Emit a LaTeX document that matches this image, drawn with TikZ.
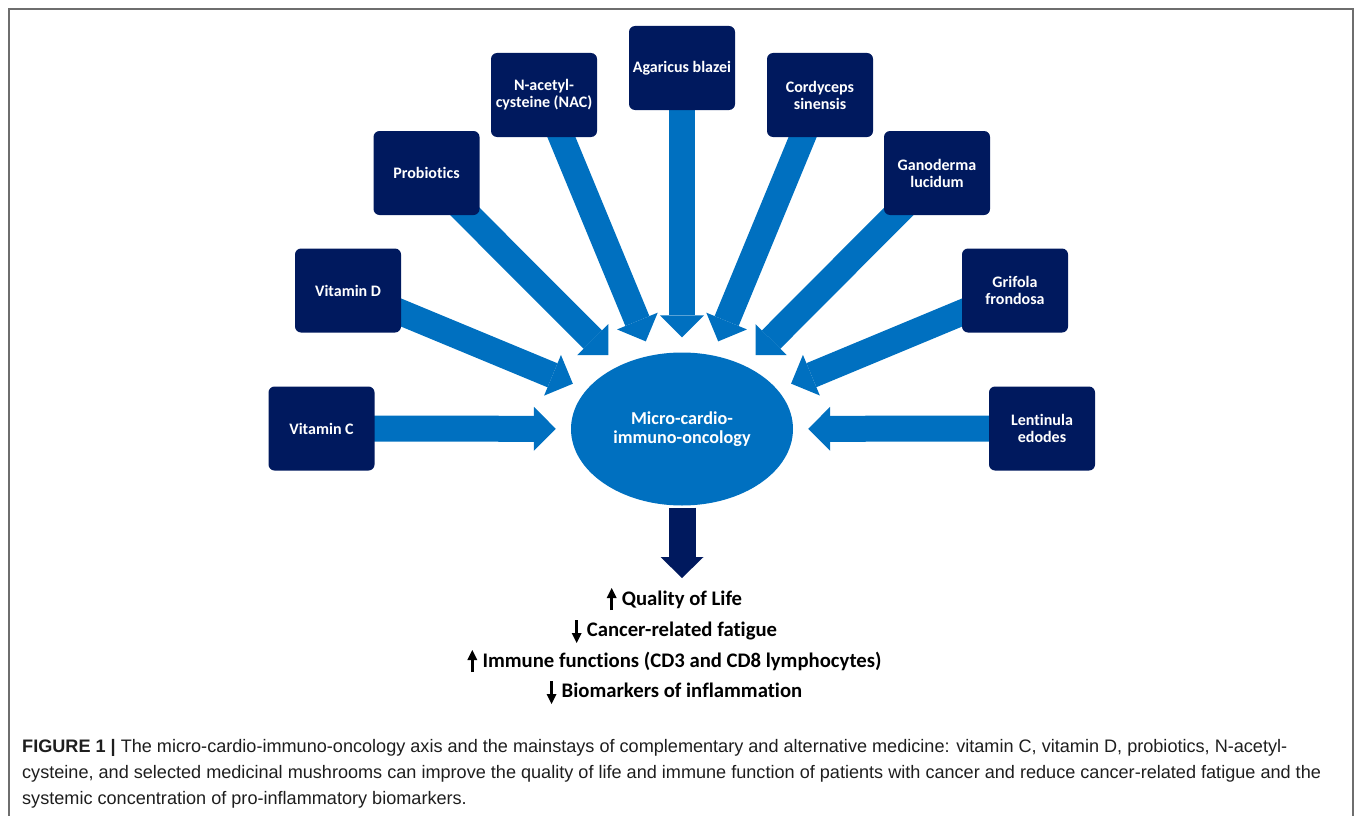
\documentclass[tikz,border=0pt]{standalone}
\usepackage{fontspec}
\setmainfont{Carlito}[Ligatures=NoCommon]
\newfontfamily\capfont{Liberation Sans}
\usetikzlibrary{shapes.geometric, arrows.meta, backgrounds}
\definecolor{navy}{RGB}{0,25,94}
\definecolor{mainblue}{RGB}{0,112,192}
\definecolor{framegray}{RGB}{110,110,110}
\definecolor{captext}{RGB}{30,30,30}
\tikzstyle{remedy} = [
	rectangle,
	rounded corners=6pt,
	minimum width=106pt,
	minimum height=84pt,
	inner sep=2pt,
	align=center,
	text=white,
	fill=navy,
	font=\bfseries\fontsize{16}{17}\selectfont
]
\tikzstyle{hub} = [
	ellipse,
	minimum width=222pt,
	minimum height=153pt,
	inner sep=0pt,
	align=center,
	text=white,
	fill=mainblue,
	font=\bfseries\fontsize{18.2}{18.5}\selectfont
]
\tikzstyle{feed} = [line width=26pt, draw=mainblue, -{Triangle[width=44pt,length=22pt,line width=0pt]}, shorten >=15pt]
\tikzstyle{result} = [line width=27pt, draw=navy, -{Triangle[width=43pt,length=21pt,line width=0pt]}, shorten <=2pt]
\tikzstyle{trend} = [line width=2.8pt, -{Triangle[width=10pt,length=10pt,line width=0pt]}]
\tikzstyle{outcome} = [anchor=base, inner sep=0pt, font=\bfseries\fontsize{20.7}{24}\selectfont]
\tikzstyle{capline} = [anchor=base west, inner sep=0pt, text=captext, font=\capfont\fontsize{18.1}{26}\selectfont]

\begin{document}
\begin{tikzpicture}[x=1pt, y=-1pt]
    \useasboundingbox (0, 0) rectangle (1355, 816);
    \draw [framegray, line width=1.5pt] (9, 816) -- (9, 9) -- (1353, 9) -- (1353, 816);
    \node at (682, 429) [hub] (axis) {Micro-cardio-\\immuno-oncology};
    \node at (321.5, 428.5) [remedy] (vitC) {Vitamin C};
    \node at (348, 290.5) [remedy] (vitD) {Vitamin D};
    \node at (426.5, 173) [remedy] (probio) {Probiotics};
    \node at (544, 95) [remedy] (nac) {N-acetyl-\\cysteine (NAC)};
    \node at (682, 68) [remedy] (agaricus) {Agaricus blazei};
    \node at (820, 95) [remedy] (cordyceps) {Cordyceps\\sinensis};
    \node at (937, 173) [remedy] (ganoderma) {Ganoderma\\lucidum};
    \node at (1015, 290.5) [remedy] (grifola) {Grifola\\frondosa};
    \node at (1042, 428.5) [remedy] (lentinula) {Lentinula\\edodes};
    \begin{scope}[on background layer]
      \draw [feed] (vitC.center) to (axis);
      \draw [feed] (vitD.center) to (axis);
      \draw [feed] (probio.center) to (axis);
      \draw [feed] (nac.center) to (axis);
      \draw [feed] (agaricus.center) to (axis);
      \draw [feed] (cordyceps.center) to (axis);
      \draw [feed] (ganoderma.center) to (axis);
      \draw [feed] (grifola.center) to (axis);
      \draw [feed] (lentinula.center) to (axis);
    \end{scope}
    \coordinate (res) at (682, 578);
    \draw [result] (axis) to (res);
    % outcomes, with up / down marks in front
    \node at (682, 605) [outcome] (qol) {Quality of Life};
    \node at (682, 636) [outcome] (fatigue) {Cancer-related fatigue};
    \node at (682, 667) [outcome] (immune) {Immune functions (CD3 and CD8 lymphocytes)};
    \node at (682, 697) [outcome] (markers) {Biomarkers of inflammation};
    \draw [trend] ([xshift=-10pt, yshift=-5pt] qol.base west) -- ++(0, -22);
    \draw [trend] ([xshift=-10pt, yshift=16pt] fatigue.base west) -- ++(0, 23);
    \draw [trend] ([xshift=-10pt, yshift=-5pt] immune.base west) -- ++(0, -22);
    \draw [trend] ([xshift=-10pt, yshift=16pt] markers.base west) -- ++(0, 23);
    \node at (22, 752) [capline] (cap1) {\textbf{FIGURE 1 |} The micro-cardio-immuno-oncology axis and the mainstays of complementary and alternative medicine: vitamin C, vitamin D, probiotics, N-acetyl-};
    \node at (22, 778) [capline] (cap2) {cysteine, and selected medicinal mushrooms can improve the quality of life and immune function of patients with cancer and reduce cancer-related fatigue and the};
    \node at (22, 804) [capline] (cap3) {systemic concentration of pro-inflammatory biomarkers.};
\end{tikzpicture}
\end{document}
